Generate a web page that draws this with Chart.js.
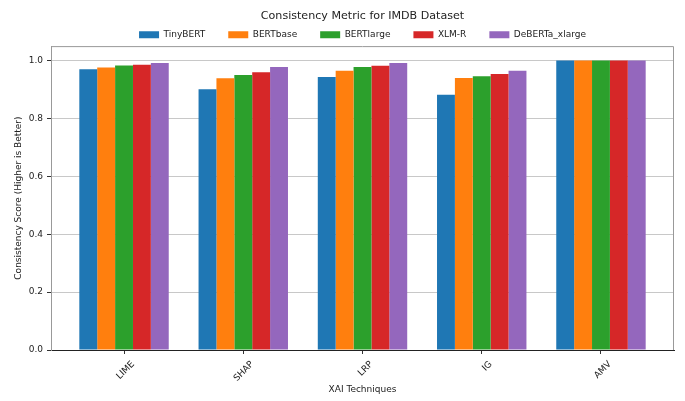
<!DOCTYPE html>
<html>
<head>
<meta charset="utf-8">
<script src="https://cdn.jsdelivr.net/npm/chart.js@4/dist/chart.umd.min.js"></script>
<style>
  html, body { margin: 0; padding: 0; background: #ffffff; }
  canvas { display: block; }
</style>
</head>
<body>
<canvas id="c" width="685" height="401"></canvas>
<script>
// ---- data ----
const categories = ["LIME", "SHAP", "LRP", "IG", "AMV"];
const seriesNames = ["TinyBERT", "BERTbase", "BERTlarge", "XLM-R", "DeBERTa_xlarge"];
const tinyBERT  = [0.970, 0.901, 0.943, 0.882, 1.000];
const bertBase  = [0.976, 0.939, 0.965, 0.940, 1.000];
const bertLarge = [0.983, 0.950, 0.978, 0.946, 1.000];
const xlmR      = [0.986, 0.960, 0.982, 0.954, 1.000];
const debertaXL = [0.992, 0.978, 0.992, 0.965, 1.000];
const yTicks = [0, 0.2, 0.4, 0.6, 0.8, 1.0];

const seriesValues = [tinyBERT, bertBase, bertLarge, xlmR, debertaXL];
const colors = ["#1f77b4", "#ff7f0e", "#2ca02c", "#d62728", "#9467bd"];
const FONT = "'DejaVu Sans', sans-serif";
const TEXT = "#222222";

const framePlugin = {
  id: 'frame',
  afterDraw(chart) {
    const {ctx, chartArea: a} = chart;
    ctx.save();
    ctx.strokeStyle = '#999999';
    ctx.lineWidth = 1;
    ctx.beginPath();
    ctx.moveTo(a.left + 0.5, a.top + 0.5);
    ctx.lineTo(a.right - 0.5, a.top + 0.5);
    ctx.lineTo(a.right - 0.5, a.bottom);
    ctx.stroke();
    ctx.restore();
  }
};
const bgPlugin = {
  id: 'bg',
  beforeDraw(chart) {
    const {ctx} = chart;
    ctx.save();
    ctx.fillStyle = '#ffffff';
    ctx.fillRect(0, 0, chart.width, chart.height);
    ctx.restore();
  }
};

new Chart(document.getElementById('c'), {
  type: 'bar',
  data: {
    datasets: seriesNames.map((name, k) => ({
      label: name,
      data: seriesValues[k].map((v, i) => ({x: i, y: v})),
      backgroundColor: colors[k],
      borderWidth: 0,
      categoryPercentage: 0.75,
      barPercentage: 1.0
    }))
  },
  options: {
    responsive: false,
    devicePixelRatio: 1,
    animation: false,
    layout: { padding: { left: 0, right: 11, top: 0, bottom: 0 } },
    plugins: {
      title: {
        display: true,
        text: 'Consistency Metric for IMDB Dataset',
        fullSize: false,
        color: TEXT,
        font: { family: FONT, size: 11.1, weight: 'normal' },
        padding: { top: 9, bottom: -15 }
      },
      legend: {
        display: true,
        position: 'top',
        fullSize: false,
        maxHeight: 38.8,
        labels: {
          boxWidth: 20,
          boxHeight: 7,
          padding: 23,
          color: TEXT,
          font: { family: FONT, size: 9 }
        }
      },
      tooltip: { enabled: false }
    },
    scales: {
      x: {
        type: 'linear',
        min: -0.6125,
        max: 4.6125,
        offset: false,
        z: 2,
        afterBuildTicks(scale) {
          scale.ticks = categories.map((c, i) => ({ value: i }));
        },
        afterFit(scale) { scale.height = 51; },
        ticks: {
          callback: (v) => categories[v] !== undefined ? categories[v] : '',
          minRotation: 45,
          maxRotation: 45,
          labelOffset: 9,
          padding: 5,
          color: TEXT,
          font: { family: FONT, size: 9 }
        },
        grid: {
          offset: false,
          drawOnChartArea: false,
          drawTicks: true,
          tickLength: 4,
          tickColor: '#333333'
        },
        border: { display: true, color: '#222222', width: 1 },
        title: {
          display: true,
          text: 'XAI Techniques',
          color: TEXT,
          font: { family: FONT, size: 9 },
          padding: { top: 0, bottom: 6.2 }
        }
      },
      y: {
        min: 0,
        max: 1.05,
        z: 1,
        afterBuildTicks(scale) {
          scale.ticks = yTicks.map(v => ({ value: v }));
        },
        afterFit(scale) { scale.width = 51; },
        ticks: {
          callback: (v) => Number(v).toFixed(1),
          padding: 4,
          color: TEXT,
          font: { family: FONT, size: 9 }
        },
        grid: {
          color: (c) => (c.tick && c.tick.value === 0) ? 'rgba(0,0,0,0)' : 'rgba(176,176,176,0.7)',
          lineWidth: 1,
          tickLength: 4,
          tickColor: '#333333'
        },
        border: { display: true, color: '#999999', width: 1 },
        title: {
          display: true,
          text: 'Consistency Score (Higher is Better)',
          color: TEXT,
          font: { family: FONT, size: 9 },
          padding: { top: 13.5, bottom: 0 }
        }
      }
    }
  },
  plugins: [bgPlugin, framePlugin]
});
</script>
</body>
</html>
